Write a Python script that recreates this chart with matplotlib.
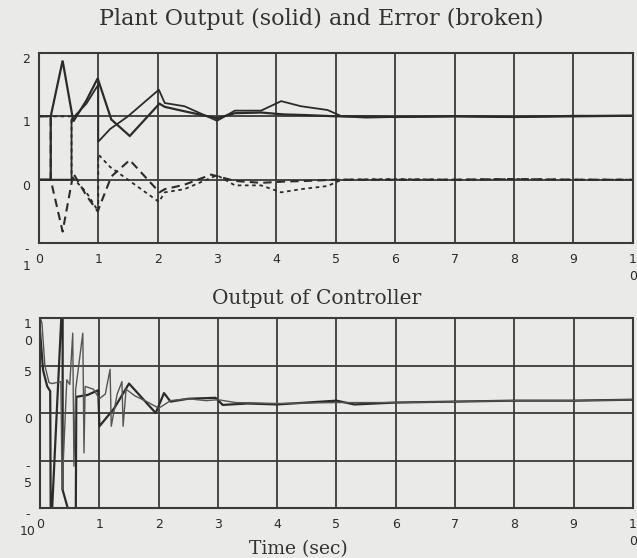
import matplotlib
matplotlib.use("Agg")
import matplotlib.pyplot as plt
from matplotlib.transforms import ScaledTranslation

# ---- plant output (solid), two runs ----
t_out1 = [0, 0.2, 0.2, 0.4, 0.58, 0.8, 0.99, 1.22, 1.53, 2.03, 2.12, 2.45, 3.0, 3.3,
          3.74, 4.13, 4.5, 5.0, 5.5, 6.0, 7.0, 8.0, 9.0, 10.0]
y_out1 = [0, 0, 1.0, 1.88, 0.92, 1.25, 1.6, 0.95, 0.69, 1.2, 1.15, 1.08, 0.97, 1.05,
          1.06, 1.03, 1.02, 1.0, 1.0, 0.99, 1.0, 0.99, 1.0, 1.01]
t_out2 = [0, 0.55, 0.55, 0.8, 1.0, 1.0, 1.2, 1.5, 2.02, 2.12, 2.45, 3.0, 3.3, 3.74,
          4.08, 4.41, 4.86, 5.1, 5.5, 6.0, 7.0, 8.0, 9.0, 10.0]
y_out2 = [0, 0, 0.95, 1.2, 1.5, 0.6, 0.8, 1.0, 1.42, 1.21, 1.16, 0.93, 1.09, 1.09,
          1.24, 1.16, 1.1, 1.0, 0.98, 0.99, 1.0, 0.99, 1.01, 1.01]

# ---- error (broken), two runs ----
t_err1 = [0, 0.2, 0.2, 0.4, 0.58, 0.8, 0.99, 1.22, 1.53, 2.03, 2.12, 2.45, 2.9, 3.3,
          3.74, 4.13, 4.5, 5.0, 6.0, 7.0, 8.0, 9.0, 10.0]
e_err1 = [1.0, 1.0, 0.0, -0.82, 0.1, -0.25, -0.5, 0.05, 0.31, -0.2, -0.15, -0.08,
          0.08, -0.02, -0.05, -0.03, -0.02, 0.0, 0.0, 0.0, 0.01, 0.0, 0.0]
t_err2 = [0, 0.55, 0.55, 0.8, 1.0, 1.0, 1.2, 1.5, 2.02, 2.12, 2.45, 3.0, 3.3, 3.74,
          4.08, 4.41, 4.86, 5.1, 6.0, 7.0, 8.0, 9.0, 10.0]
e_err2 = [1.0, 1.0, 0.05, -0.2, -0.5, 0.4, 0.2, 0.0, -0.35, -0.2, -0.15, 0.07, -0.09,
          -0.09, -0.2, -0.15, -0.1, 0.0, 0.01, 0.0, 0.01, 0.0, 0.0]

# ---- controller output, two runs ----
t_u1 = [0, 0.05, 0.12, 0.17, 0.18, 0.38, 0.38, 0.6, 0.61, 0.8, 0.98, 1.0, 1.25,
        1.5, 1.95, 2.09, 2.2, 2.5, 2.96, 3.08, 3.5, 4.0, 4.5, 5.0, 5.3, 6.0, 7.0,
        8.0, 9.0, 10.0]
y_u1 = [8.5, 4.5, 2.8, 2.3, -13, 13, -8.1, -13, 1.7, 1.9, 2.4, -1.4, 0.5, 3.1,
        0.0, 2.1, 1.2, 1.5, 1.6, 0.85, 1.0, 0.9, 1.1, 1.3, 0.9, 1.1, 1.2, 1.3, 1.3,
        1.4]
t_u2 = [0.0, 0.03, 0.08, 0.15, 0.2, 0.35, 0.37, 0.45, 0.5, 0.55, 0.57, 0.6, 0.72,
        0.74, 0.76, 0.9, 1.0, 1.1, 1.18, 1.2, 1.3, 1.38, 1.4, 1.45, 1.6, 1.8, 2.0,
        2.2, 2.5, 2.8, 3.0, 3.3, 4.0, 5.0, 6.0, 7.0, 8.0, 9.0, 10.0]
y_u2 = [10, 9.5, 5, 3.2, 3.1, 3.3, -8.1, 3.5, 3.0, 8.4, -5.6, 2.5, 8.4, -4.2, 2.8,
        2.5, 1.5, 2.0, 4.6, -1.4, 2.0, 3.3, -1.4, 2.5, 1.8, 1.2, 0.5, 1.3, 1.5, 1.3,
        1.4, 1.1, 1.0, 1.1, 1.1, 1.2, 1.3, 1.3, 1.4]

x_ticks = list(range(11))
x_labels = ["0", "1", "2", "3", "4", "5", "6", "7", "8", "9", "1\n0"]
top_yticks = [-1, 0, 1, 2]
top_ylabels = ["-\n1", "0", "1", "2"]
bot_yticks = [-10, -5, 0, 5, 10]
bot_ylabels = ["-\n10", "-\n5", "0", "5", "1\n0"]

BG = "#eaeae8"
INK = "#2b2b2b"
GRID = "#3a3a3a"
TXT = "#333333"

fig = plt.figure(figsize=(6.37, 5.58), dpi=100, facecolor=BG)
ax_top = fig.add_axes([0.061, 0.5645, 0.9325, 0.3405])
ax_bot = fig.add_axes([0.063, 0.0896, 0.9305, 0.3405])

ax_top.plot(t_out1, y_out1, color=INK, lw=1.6, solid_joinstyle="miter")
ax_top.plot(t_out2, y_out2, color=INK, lw=1.3)
ax_top.plot(t_err1, e_err1, color=INK, lw=1.5, ls=(0, (4, 2.5)))
ax_top.plot(t_err2, e_err2, color=INK, lw=1.3, ls=(0, (2, 2)))

ax_bot.plot(t_u1, y_u1, color=INK, lw=1.6)
ax_bot.plot(t_u2, y_u2, color="#555555", lw=1.0)

up = ScaledTranslation(0, 4 / 72, fig.dpi_scale_trans)
for ax, yt, yl, lim in ((ax_top, top_yticks, top_ylabels, (-1, 2)),
                        (ax_bot, bot_yticks, bot_ylabels, (-10, 10))):
    ax.set_facecolor(BG)
    ax.set_xlim(0, 10)
    ax.set_ylim(*lim)
    ax.set_xticks(x_ticks)
    ax.set_xticklabels(x_labels, fontsize=9, color=INK, linespacing=1.4)
    ax.set_yticks(yt)
    ax.set_yticklabels(yl, fontsize=9, color=INK, linespacing=1.35, ha="center")
    for lbl in ax.get_yticklabels():
        lbl.set_va("top")
        lbl.set_transform(lbl.get_transform() + up)
    ax.tick_params(length=0, pad=7, axis="x")
    ax.tick_params(length=0, pad=9, axis="y")
    ax.grid(True, color=GRID, lw=1.3)
    for sp in ax.spines.values():
        sp.set_color(GRID)
        sp.set_linewidth(1.5)

ax_top.set_title("Plant Output (solid) and Error (broken)", family="DejaVu Serif",
                 fontsize=16, color=TXT, pad=20, x=0.476)
ax_bot.set_title("Output of Controller", family="DejaVu Serif", fontsize=14.5,
                 color=TXT, pad=10, x=0.467)
ax_bot.set_xlabel("Time (sec)", family="DejaVu Serif", fontsize=13.5, color=TXT)
ax_bot.xaxis.set_label_coords(0.435, -0.17)

fig.savefig("out.png", dpi=100, facecolor=BG)
